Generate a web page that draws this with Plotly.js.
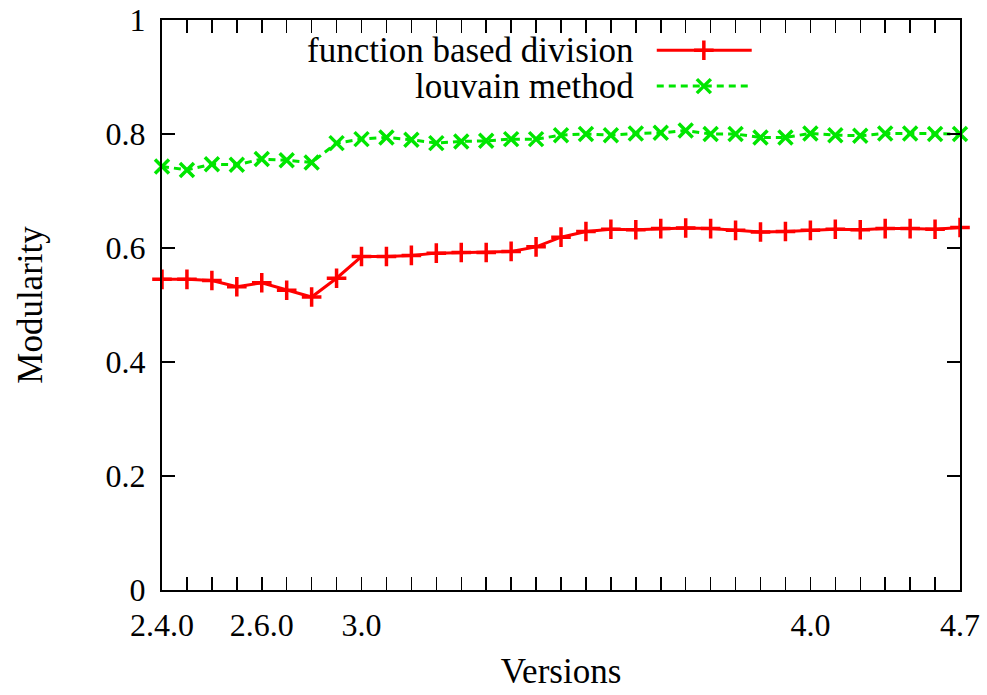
<!DOCTYPE html>
<html>
<head>
<meta charset="utf-8">
<script src="https://cdn.plot.ly/plotly-3.0.1.min.js"></script>
<style>html,body{margin:0;padding:0;background:#fff;}#chart{width:987px;height:695px;}</style>
</head>
<body>
<div id="chart"></div>
<script>
// Version index positions 0..32
const versionIndex = [0,1,2,3,4,5,6,7,8,9,10,11,12,13,14,15,16,17,18,19,20,21,22,23,24,25,26,27,28,29,30,31,32];
const tickLabelIndex = [0,4,8,26,32];
const tickLabelText = ["2.4.0","2.6.0","3.0","4.0","4.7"];
const functionBased = [0.545,0.545,0.543,0.532,0.539,0.526,0.514,0.547,0.585,0.585,0.587,0.591,0.592,0.592,0.594,0.602,0.619,0.629,0.633,0.632,0.634,0.635,0.634,0.631,0.628,0.629,0.631,0.633,0.632,0.634,0.634,0.633,0.636];
const louvain = [0.743,0.737,0.747,0.746,0.756,0.754,0.750,0.784,0.791,0.794,0.790,0.784,0.787,0.788,0.791,0.791,0.798,0.800,0.798,0.801,0.802,0.806,0.800,0.800,0.794,0.794,0.801,0.798,0.797,0.801,0.801,0.800,0.800];
const seriesNames = ["function based division","louvain method"];

const FONT = "Liberation Serif, Times New Roman, serif";
const RED = "#ff0000", GREEN = "#00e600";

const tickvals = versionIndex;
const ticktext = versionIndex.map(i => {
  const k = tickLabelIndex.indexOf(i);
  return k >= 0 ? tickLabelText[k] : "";
});

const traces = [
  {x: versionIndex, y: functionBased, type: "scatter", mode: "lines+markers", name: seriesNames[0],
   line: {color: RED, width: 3}, marker: {symbol: "cross-thin", size: 14, line: {color: RED, width: 3.5}, color: RED},
   showlegend: false, cliponaxis: false},
  {x: versionIndex, y: louvain, type: "scatter", mode: "lines+markers", name: seriesNames[1],
   line: {color: GREEN, width: 3, dash: "7px,5px"}, marker: {symbol: "x-thin", size: 14, line: {color: GREEN, width: 3.5}, color: GREEN},
   showlegend: false, cliponaxis: false},
  // legend samples (key area, on an overlay axis in 0..1 units)
  {x: [0.620, 0.739], y: [0.947, 0.947], xaxis: "x2", yaxis: "y2", mode: "lines", line: {color: RED, width: 3}, showlegend: false, hoverinfo: "skip"},
  {x: [0.679], y: [0.947], xaxis: "x2", yaxis: "y2", mode: "markers", marker: {symbol: "cross-thin", size: 14, line: {color: RED, width: 3.5}}, showlegend: false, hoverinfo: "skip"},
  {x: [0.620, 0.739], y: [0.884, 0.884], xaxis: "x2", yaxis: "y2", mode: "lines", line: {color: GREEN, width: 3, dash: "7px,5px"}, showlegend: false, hoverinfo: "skip"},
  {x: [0.679], y: [0.884], xaxis: "x2", yaxis: "y2", mode: "markers", marker: {symbol: "x-thin", size: 14, line: {color: GREEN, width: 3.5}}, showlegend: false, hoverinfo: "skip"}
];

const layout = {
  width: 987, height: 695,
  margin: {l: 162, r: 27, t: 20, b: 105},
  paper_bgcolor: "#fff", plot_bgcolor: "#fff",
  font: {family: FONT, size: 32, color: "#000"},
  showlegend: false,
  xaxis: {
    range: [0, 32], tickmode: "array", tickvals: tickvals, ticktext: ticktext,
    ticks: "inside", ticklen: 13, tickwidth: 1.5, tickcolor: "#000",
    showline: true, linecolor: "#000", linewidth: 2, mirror: "allticks",
    showgrid: false, zeroline: false, ticklabelstandoff: 6,
    tickfont: {family: FONT, size: 32},
    title: {text: "Versions", font: {family: FONT, size: 35}, standoff: 16}
  },
  yaxis: {
    range: [0, 1], tickmode: "array", tickvals: [0,0.2,0.4,0.6,0.8,1], ticktext: ["0","0.2","0.4","0.6","0.8","1"],
    ticks: "inside", ticklen: 13, tickwidth: 1.5, tickcolor: "#000",
    showline: true, linecolor: "#000", linewidth: 2, mirror: "allticks",
    showgrid: false, zeroline: false, ticklabelstandoff: 8,
    tickfont: {family: FONT, size: 32},
    title: {text: "Modularity", font: {family: FONT, size: 35}, standoff: 52}
  },
  xaxis2: {overlaying: "x", range: [0, 1], visible: false, fixedrange: true},
  yaxis2: {overlaying: "y", range: [0, 1], visible: false, fixedrange: true},
  annotations: [
    {xref: "paper", yref: "paper", x: 0.594, y: 0.947, xanchor: "right", yanchor: "middle", text: seriesNames[0], showarrow: false, font: {family: FONT, size: 35}},
    {xref: "paper", yref: "paper", x: 0.594, y: 0.884, xanchor: "right", yanchor: "middle", text: seriesNames[1], showarrow: false, font: {family: FONT, size: 35}}
  ]
};

Plotly.newPlot("chart", traces, layout, {staticPlot: true, displayModeBar: false});
</script>
</body>
</html>
